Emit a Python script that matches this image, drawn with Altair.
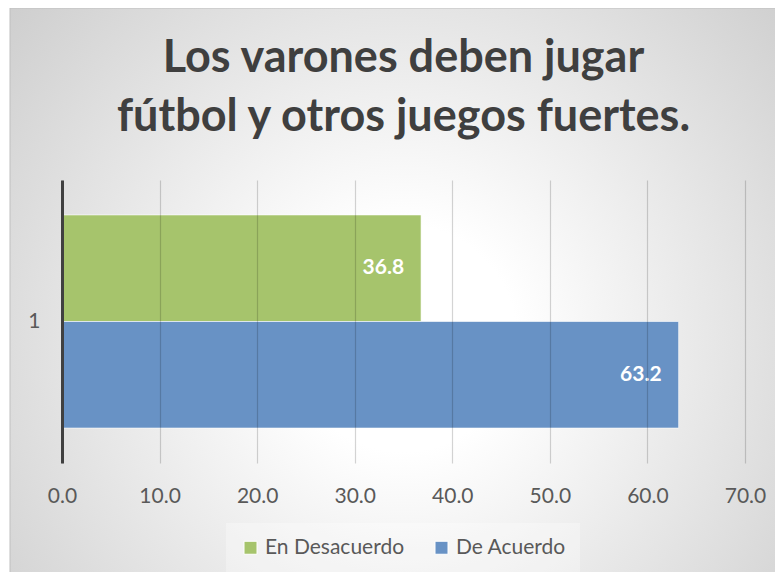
import altair as alt
import pandas as pd

# ---- data ----
categories = ["1", "1"]
series = ["En Desacuerdo", "De Acuerdo"]
values = [36.8, 63.2]
x_ticks = [0, 10, 20, 30, 40, 50, 60, 70]
title_lines = ["Los varones deben jugar", "fútbol y otros juegos fuertes."]
colors = ["#A6C46C", "#6892C5"]

df = pd.DataFrame({"cat": categories, "serie": series, "valor": values})

W, H = 683, 283
FONT = "Lato"
TXT = "#595959"

bg = alt.Chart(alt.Data(values=[{}])).mark_rect(
    fill={
        "gradient": "radial",
        "x1": 0.5, "y1": 0.55, "r1": 0,
        "x2": 0.5, "y2": 0.55, "r2": 0.72,
        "stops": [
            {"offset": 0, "color": "#ffffff"},
            {"offset": 0.2, "color": "#ffffff"},
            {"offset": 1, "color": "#c8c8c8"},
        ],
    },
    stroke="#bfbfbf",
    strokeWidth=1,
).encode(x=alt.value(-52), x2=alt.value(734), y=alt.value(-172), y2=alt.value(410))

base = alt.Chart(df)

bars = base.mark_bar(stroke="white", strokeWidth=1, strokeOpacity=0.6).encode(
    x=alt.X(
        "valor:Q",
        scale=alt.Scale(domain=[0, 70], nice=False, zero=True),
        axis=alt.Axis(
            values=x_ticks, format=".1f", grid=True, gridColor="rgba(0,0,0,0.17)", gridWidth=1.2,
            domain=False, ticks=False, labelFont=FONT, labelFontSize=21,
            labelColor=TXT, labelPadding=22, title=None, zindex=1,
            labelFlush=False, labelOverlap=False,
        ),
    ),
    y=alt.Y(
        "cat:N",
        scale=alt.Scale(paddingInner=0, paddingOuter=0.164),
        axis=alt.Axis(
            title=None, domainColor="#404040", domainWidth=3, ticks=False,
            labelPadding=22, labelFont=FONT, labelFontSize=21, labelColor=TXT,
            labelAngle=0, grid=False, zindex=2,
        ),
    ),
    yOffset=alt.YOffset("serie:N", sort=series, scale=alt.Scale(paddingInner=0, paddingOuter=0)),
    color=alt.Color(
        "serie:N",
        sort=series,
        scale=alt.Scale(domain=series, range=colors),
        legend=alt.Legend(
            title=None, orient="none", legendX=164, legendY=343, direction="horizontal",
            symbolType="square", symbolSize=169, symbolStrokeColor="#ffffff",
            symbolStrokeWidth=1, labelFont=FONT, labelFontSize=21, labelColor=TXT,
            columnPadding=26, labelOffset=4, padding=14,
            fillColor="rgba(255,255,255,0.3)",
        ),
    ),
)

labels = base.mark_text(
    align="right", baseline="middle", dx=-17, font=FONT, fontSize=21,
    fontWeight="bold", color="white",
).encode(
    x="valor:Q",
    y="cat:N",
    yOffset=alt.YOffset("serie:N", sort=series),
    text=alt.Text("valor:Q", format=".1f"),
)

chart = (
    alt.layer(bg, bars, labels)
    .properties(
        width=W,
        height=H,
        title=alt.TitleParams(
            title_lines, font=FONT, fontSize=45, fontWeight="bold", color="#3f3f3f",
            lineHeight=59, anchor="middle", frame="group", baseline="alphabetic",
            offset=-168,
        ),
        padding={"left": 54, "top": 172, "right": 30, "bottom": 109},
        autosize=alt.AutoSizeParams(type="none"),
        background="white",
    )
    .configure_view(strokeWidth=0)
)

chart.save("out.html", embed_options={"renderer": "svg", "actions": False})
